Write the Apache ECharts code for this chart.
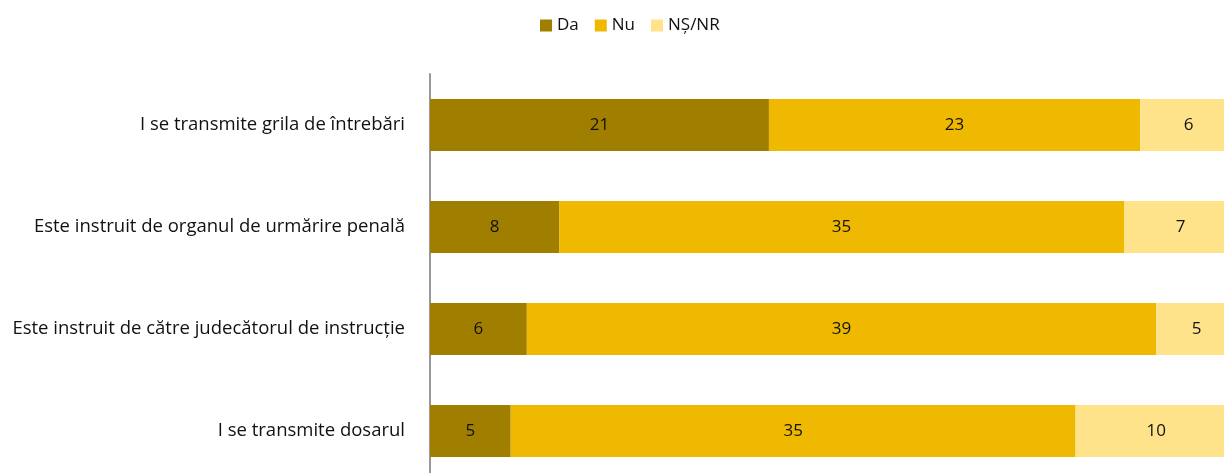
<!DOCTYPE html>
<html>
<head>
<meta charset="utf-8">
<script src="https://cdn.jsdelivr.net/npm/echarts@6/dist/echarts.min.js"></script>
<style>html,body{margin:0;padding:0;background:#fff;overflow:hidden;}#c{width:1237px;height:482px;}</style>
</head>
<body>
<div id="c"></div>
<script>
const categories = [
  "I se transmite grila de întrebări",
  "Este instruit de organul de urmărire penală",
  "Este instruit de către judecătorul de instrucție",
  "I se transmite dosarul"
];
const seriesNames = ["Da", "Nu", "NȘ/NR"];
const da = [21, 8, 6, 5];
const nu = [23, 35, 39, 35];
const nsnr = [6, 7, 5, 10];
const colors = ["#A07F00", "#EEB900", "#FEE38B"];

const FONT = "'Open Sans', Lato, sans-serif";
const chart = echarts.init(document.getElementById('c'), null, {renderer: 'canvas'});
const mk = (name, data, color) => ({
  name, type: 'bar', stack: 'total', data, barWidth: '51%',
  itemStyle: {color},
  label: {show: true, position: 'inside', color: '#111', fontFamily: FONT, fontSize: 17},
  animation: false
});
chart.setOption({
  animation: false,
  textStyle: {fontFamily: FONT},
  legend: {
    top: 12, left: 535, itemWidth: 12, itemHeight: 12, itemGap: 16,
    icon: 'rect',
    textStyle: {fontFamily: FONT, fontSize: 17, color: '#111'},
    data: seriesNames
  },
  grid: {left: 430, right: 0, top: 74, bottom: 0, containLabel: false},
  xAxis: {
    type: 'value', min: 0, max: 50, show: false
  },
  yAxis: {
    type: 'category', data: categories, inverse: true,
    axisLine: {show: true, lineStyle: {color: '#999', width: 2}},
    axisTick: {show: false},
    axisLabel: {fontFamily: FONT, fontSize: 18.5, color: '#111', margin: 25}
  },
  series: [mk(seriesNames[0], da, colors[0]), mk(seriesNames[1], nu, colors[1]), mk(seriesNames[2], nsnr, colors[2])]
});
</script>
</body>
</html>
